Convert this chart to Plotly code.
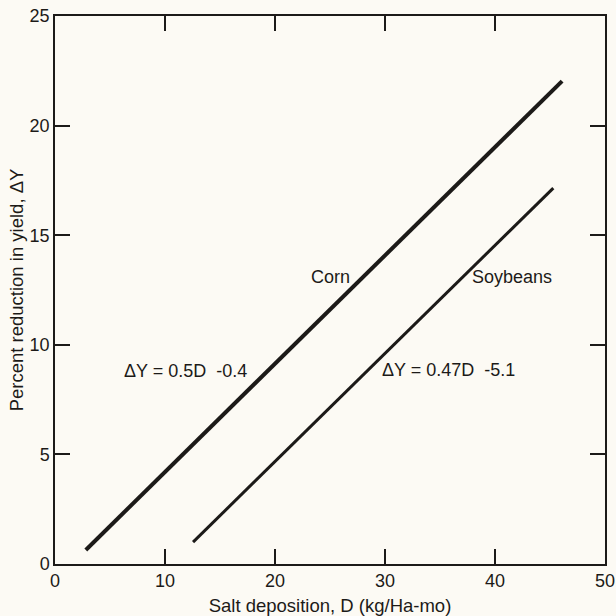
import plotly.graph_objects as go

# Fitted yield-reduction lines (endpoints of each plotted segment)
corn_d = [2.8, 46.1]
corn_dy = [0.64, 22.03]
soy_d = [12.55, 45.3]
soy_dy = [1.0, 17.15]

x_ticks = [0, 10, 20, 30, 40, 50]
y_ticks = [0, 5, 10, 15, 20, 25]

ink = "#1c1a18"
bg = "#fcfaf4"
font_family = "Liberation Sans, Arial, sans-serif"

fig = go.Figure()
fig.add_trace(go.Scatter(x=corn_d, y=corn_dy, mode="lines",
                         line=dict(color=ink, width=4), name="Corn"))
fig.add_trace(go.Scatter(x=soy_d, y=soy_dy, mode="lines",
                         line=dict(color=ink, width=3), name="Soybeans"))

labels = [
    (25.0, 13.1, "Corn"),
    (41.5, 13.1, "Soybeans"),
    (11.9, 8.8, "ΔY = 0.5D  -0.4"),
    (35.8, 8.85, "ΔY = 0.47D  -5.1"),
]
for x, y, t in labels:
    fig.add_annotation(x=x, y=y, text=t, showarrow=False,
                       font=dict(size=18, color=ink, family=font_family))

axis_common = dict(
    showline=True, linecolor=ink, linewidth=1.5, mirror="ticks",
    ticks="inside", ticklen=15, tickwidth=1.5, tickcolor=ink,
    showgrid=False, zeroline=False, automargin=False,
    tickfont=dict(size=18, color=ink, family=font_family),
)

fig.update_xaxes(range=[0, 50], tickvals=x_ticks,
                 title=dict(text="Salt deposition, D (kg/Ha-mo)",
                            font=dict(size=18.5, color=ink, family=font_family),
                            standoff=15),
                 **axis_common)
fig.update_yaxes(range=[0, 25], tickvals=y_ticks,
                 title=dict(text="Percent reduction in yield, ΔY",
                            font=dict(size=18.5, color=ink, family=font_family),
                            standoff=1),
                 **axis_common)

fig.update_layout(
    width=616, height=616,
    margin=dict(l=55, r=11, t=16, b=52),
    paper_bgcolor=bg, plot_bgcolor=bg,
    showlegend=False,
)

fig.write_html("out.html")
